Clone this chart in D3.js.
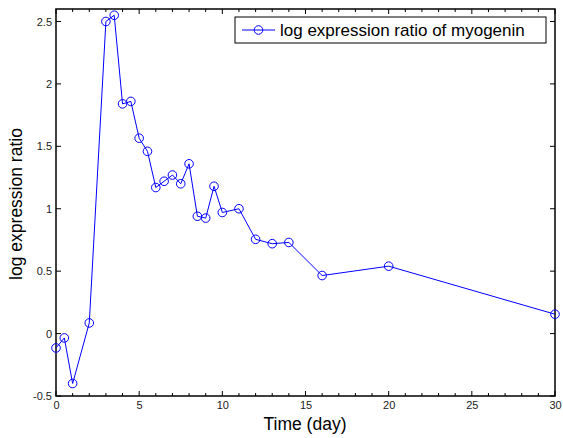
<!DOCTYPE html>
<html>
<head>
<meta charset="utf-8">
<script src="https://cdn.jsdelivr.net/npm/d3@7"></script>
<style>
  html, body { margin: 0; padding: 0; background: #fff; }
  svg { display: block; font-family: "Liberation Sans", Arial, sans-serif; }
</style>
</head>
<body>
<svg id="chart" width="563" height="438"></svg>
<script>
// Time points (days) and measured log expression ratios of myogenin
const days = [0, 0.5, 1, 2, 3, 3.5, 4, 4.5, 5, 5.5, 6, 6.5, 7, 7.5, 8, 8.5, 9, 9.5, 10, 11, 12, 13, 14, 16, 20, 30];
const logRatio = [-0.115, -0.035, -0.40, 0.085, 2.50, 2.55, 1.84, 1.86, 1.565, 1.46, 1.17, 1.22, 1.27, 1.20, 1.36, 0.94, 0.925, 1.18, 0.97, 1.00, 0.755, 0.72, 0.73, 0.465, 0.54, 0.155];
const xTicks = [0, 5, 10, 15, 20, 25, 30];
const yTicks = [-0.5, 0, 0.5, 1, 1.5, 2, 2.5];
const seriesName = "log expression ratio of myogenin";

const svg = d3.select("#chart");
const plotL = 56, plotR = 555, plotT = 9, plotB = 396;

const x = d3.scaleLinear().domain([0, 30]).range([plotL, plotR]);
const y = d3.scaleLinear().domain([-0.5, 2.6]).range([plotB, plotT]);

const data = days.map((d, i) => ({ day: d, value: logRatio[i] }));

// Frame
svg.append("rect")
  .attr("x", plotL).attr("y", plotT)
  .attr("width", plotR - plotL).attr("height", plotB - plotT)
  .attr("fill", "none").attr("stroke", "#000").attr("stroke-width", 1.5);

// Inward ticks: minor every day, major every 5 days
const minorX = d3.range(0, 31, 1);
const tickG = svg.append("g").attr("stroke", "#000").attr("stroke-width", 1);
minorX.forEach(t => {
  const len = (t % 5 === 0) ? 5 : 3;
  tickG.append("line").attr("x1", x(t)).attr("x2", x(t)).attr("y1", plotB).attr("y2", plotB - len);
  tickG.append("line").attr("x1", x(t)).attr("x2", x(t)).attr("y1", plotT).attr("y2", plotT + len);
});
yTicks.forEach(t => {
  tickG.append("line").attr("x1", plotL).attr("x2", plotL + 5).attr("y1", y(t)).attr("y2", y(t));
  tickG.append("line").attr("x1", plotR).attr("x2", plotR - 5).attr("y1", y(t)).attr("y2", y(t));
});

// Tick labels via axes (domain and tick lines hidden)
const xAxis = svg.append("g")
  .attr("transform", `translate(0,${plotB})`)
  .call(d3.axisBottom(x).tickValues(xTicks).tickSize(0).tickPadding(5).tickFormat(d3.format("d")));
const yAxis = svg.append("g")
  .attr("transform", `translate(${plotL},0)`)
  .call(d3.axisLeft(y).tickValues(yTicks).tickSize(0).tickPadding(4).tickFormat(d => String(d)));
[xAxis, yAxis].forEach(g => {
  g.select(".domain").remove();
  g.selectAll("text").attr("font-size", 11).attr("fill", "#222")
    .attr("font-family", "'Liberation Sans', Arial, sans-serif");
});

// Series line and circle markers
const line = d3.line().x(d => x(d.day)).y(d => y(d.value));
svg.append("path").datum(data)
  .attr("d", line).attr("fill", "none").attr("stroke", "#0000ff").attr("stroke-width", 1);
svg.append("g").selectAll("circle").data(data).join("circle")
  .attr("cx", d => x(d.day)).attr("cy", d => y(d.value)).attr("r", 4.3)
  .attr("fill", "none").attr("stroke", "#0000ff").attr("stroke-width", 1);

// Axis titles
svg.append("text").attr("x", 305).attr("y", 430).attr("text-anchor", "middle")
  .attr("font-size", 17.5).attr("fill", "#000").text("Time (day)");
svg.append("text").attr("transform", "translate(22,204) rotate(-90)").attr("text-anchor", "middle")
  .attr("font-size", 17.5).attr("fill", "#000").text("log expression ratio");

// Legend
const lg = svg.append("g");
lg.append("rect").attr("x", 235).attr("y", 17).attr("width", 311).attr("height", 26)
  .attr("fill", "#fff").attr("stroke", "#000").attr("stroke-width", 1);
lg.append("line").attr("x1", 242).attr("x2", 275).attr("y1", 30).attr("y2", 30)
  .attr("stroke", "#0000ff").attr("stroke-width", 1);
lg.append("circle").attr("cx", 258.5).attr("cy", 30).attr("r", 4.3)
  .attr("fill", "none").attr("stroke", "#0000ff");
lg.append("text").attr("x", 280).attr("y", 36).attr("font-size", 17).attr("fill", "#000").text(seriesName);
</script>
</body>
</html>
